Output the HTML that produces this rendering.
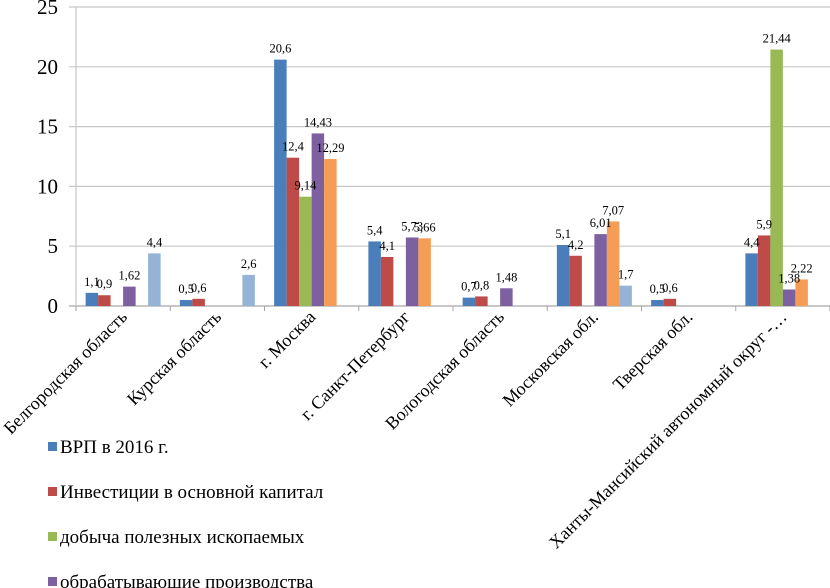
<!DOCTYPE html>
<html><head><meta charset="utf-8"><style>
html,body{margin:0;padding:0;background:#fff;}
svg{display:block;}
svg text{font-family:"Liberation Serif","Times New Roman","DejaVu Serif",serif;}
</style></head><body>
<svg id="chart" width="830" height="588">
<g id="grid"></g>
<g id="bars"></g>
<g id="labels"></g>
<g id="xlabels"></g>
<g id="legend"></g>
</svg>
<script>
const categories = ["Белгородская область","Курская область","г. Москва","г. Санкт-Петербург","Вологодская область","Московская обл.","Тверская обл.","Ханты-Мансийский автономный округ -…"];
const seriesNames = ["ВРП в 2016 г.","Инвестиции в основной капитал","добыча полезных ископаемых","обрабатывающие производства","s5","s6"];
const vrp = [1.1,0.5,20.6,5.4,0.7,5.1,0.5,4.4];
const invest = [0.9,0.6,12.4,4.1,0.8,4.2,0.6,5.9];
const mining = [null,null,9.14,null,null,null,null,21.44];
const manuf = [1.62,null,14.43,5.73,1.48,6.01,null,1.38];
const s5 = [null,null,12.29,5.66,null,7.07,null,2.22];
const s6 = [4.4,2.6,null,null,null,1.7,null,null];
const yTicks = [0,5,10,15,20,25];
const colors = ["#4a7ebb","#be4b48","#98b954","#7d60a0","#f59d56","#95b3d7"];
const series = [vrp,invest,mining,manuf,s5,s6];

const NS="http://www.w3.org/2000/svg";
const x0=76, x1=830, y0=306, yTop=7, yMax=25;
const catW=(x1-x0)/categories.length, barW=12.5;
const y=v=>y0-(v/yMax)*(y0-yTop);
function mk(tag,attrs,parent){const e=document.createElementNS(NS,tag);for(const k in attrs)e.setAttribute(k,attrs[k]);parent.appendChild(e);return e;}
const fmt=v=>String(v).replace('.',',');

const grid=document.getElementById('grid');
yTicks.forEach(t=>{
  const l=mk('line',{x1:69,x2:x1,y1:y(t),y2:y(t),stroke:t===0?'#a6a6a6':'#c8c8c8','stroke-width':1.2},grid);
  
  
  const tx=mk('text',{x:58,y:y(t)+7,'text-anchor':'end','font-size':21,fill:'#000'},grid);
  tx.textContent=t;
  
  
});
const ax=mk('line',{x1:x0,x2:x0,y1:yTop,y2:y0+5,stroke:'#c8c8c8','stroke-width':1.2},grid);


for(let i=0;i<=categories.length;i++){
  const tk=mk('line',{x1:x0+i*catW,x2:x0+i*catW,y1:y0,y2:y0+5,stroke:'#a6a6a6'},grid);
  
  
}

const bars=document.getElementById('bars'), labels=document.getElementById('labels');
const off=(catW-barW*series.length)/2;
categories.forEach((c,i)=>{
  series.forEach((s,j)=>{
    const v=s[i]; if(v==null) return;
    const bx=x0+i*catW+off+j*barW;
    const r=mk('rect',{x:bx,y:y(v),width:barW,height:y0-y(v),fill:colors[j]},bars);
    
    
    const t=mk('text',{x:bx+barW/2,y:y(v)-7,'text-anchor':'middle','font-size':12.5,fill:'#000'},labels);
    t.textContent=fmt(v);
    
    
  });
  const cx=x0+i*catW+catW/2+5;
  const xl=mk('text',{x:cx,y:318,'text-anchor':'end','font-size':18,fill:'#000',transform:`rotate(-45 ${cx} 318)`},document.getElementById('xlabels'));
  xl.textContent=c;
  
  
});

const lg=document.getElementById('legend');
for(let j=0;j<4;j++){
  const ly=447+j*45;
  const sq=mk('rect',{x:48,y:ly-5,width:9,height:9,fill:colors[j]},lg);
  
  
  const t=mk('text',{x:60,y:ly+6,'font-size':19,fill:'#000'},lg);
  t.textContent=seriesNames[j];
  
  
}
</script>
</body></html>
